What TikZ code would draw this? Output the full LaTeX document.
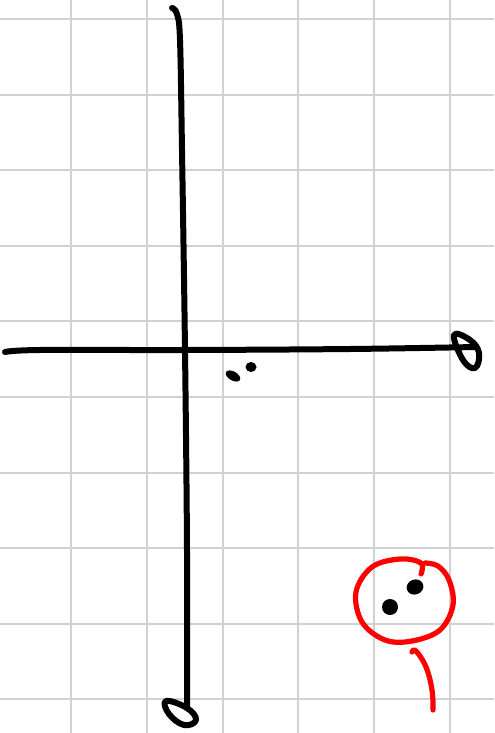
\documentclass[tikz,border=0pt]{standalone}
\usetikzlibrary{calc}

\begin{document}
\begin{tikzpicture}[
  x = 0.5pt, y = -0.5pt,
  % ── Grid paper ──────────────────────────────────────────
  gridline/.style={
    draw       = black!18,
    line width = 1pt
  },
  % ── Black pen stroke ────────────────────────────────────
  pen/.style={
    draw       = black,
    line width = 3pt,
    line cap   = round,
    line join  = round
  },
  % ── Red pen stroke ──────────────────────────────────────
  redpen/.style={
    draw       = red,
    line width = 2.6pt,
    line cap   = round,
    line join  = round
  },
  % ── Ink dot ─────────────────────────────────────────────
  inkdot/.style={
    fill = black
  }
]

% ── Frame ──────────────────────────────────────────────────
\useasboundingbox[fill=white] (0,0) rectangle (494,733);

% ── Grid ───────────────────────────────────────────────────
\foreach \i in {0,...,5}
  \draw[gridline] ({71+75.8*\i},0) -- ({71+75.8*\i},733);
\foreach \j in {0,...,9}
  \draw[gridline] (0,{19+75.6*\j}) -- (494,{19+75.6*\j});

% ── Coordinates ────────────────────────────────────────────
\coordinate (ytop)   at (172,8);
\coordinate (ybot)   at (187,708);
\coordinate (xleft)  at (5,352);
\coordinate (xright) at (476,347);
\coordinate (origin) at (185,350);

% ── Vertical axis with loop tip ────────────────────────────
\draw[pen] plot[smooth, tension=0.6] coordinates
  {(ytop) (177,14) (180,40) (182,150) (origin) (187,550) (ybot)};
\draw[pen] plot[smooth cycle, tension=0.7] coordinates
  {(ybot) (166,701) (169,714) (184,725) (196,720)};

% ── Horizontal axis with loop tip ──────────────────────────
\draw[pen] plot[smooth, tension=0.6] coordinates
  {(xleft) (40,350) (origin) (350,349) (xright)};
\draw[pen] plot[smooth cycle, tension=0.7] coordinates
  {(454,335) (470,340) (479,353) (475,368) (463,360)};

% ── Two small dots ─────────────────────────────────────────
\fill[inkdot, rotate around={-30:(233,376)}] (233,376) ellipse (8 and 4.5);
\fill[inkdot] (251,367) ellipse (5.5 and 5);

% ── Red circle ─────────────────────────────────────────────
\draw[redpen] plot[smooth, tension=0.6] coordinates
  {(421,574) (421,563) (400,559) (372,567) (356,592) (362,622)
   (385,640) (412,641) (440,630) (453,605) (449,580) (438,566) (425,563)};

% ── Dots inside the red circle ─────────────────────────────
\fill[inkdot, rotate around={20:(415,587)}] (415,587) ellipse (8.5 and 7.5);
\fill[inkdot] (390,607) ellipse (8 and 8);

% ── Red tail ───────────────────────────────────────────────
\coordinate (tailtop) at (412,652);
\coordinate (tailend) at (433,710);
\draw[redpen] plot[smooth, tension=0.7] coordinates
  {(tailtop) (416,651) (426,667) (432,690) (tailend)};

\end{tikzpicture}
\end{document}
